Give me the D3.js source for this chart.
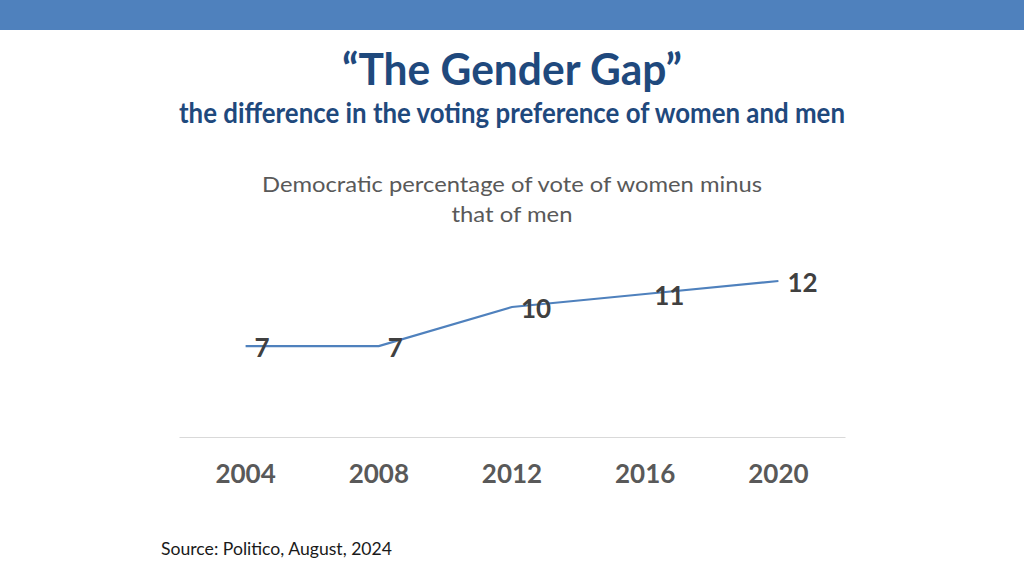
<!DOCTYPE html>
<html>
<head>
<meta charset="utf-8">
<script src="https://cdn.jsdelivr.net/npm/d3@7"></script>
<style>
  body { margin: 0; background: #ffffff; }
  svg { display: block; font-family: Lato, "Open Sans", sans-serif; }
</style>
</head>
<body>
<svg id="chart"></svg>
<script>
// Chart data
var years = ["2004", "2008", "2012", "2016", "2020"];
var gapValues = [7, 7, 10, 11, 12];

var titleText = "\u201CThe Gender Gap\u201D";
var subtitleText = "the difference in the voting preference of women and men";
var chartTitleLines = ["Democratic percentage of vote of women minus", "that of men"];
var sourceText = "Source: Politico, August, 2024";

// Draw the whole slide
var drawSlide = function(target) {
    var screen = {width: 1024, height: 576};
    var plot = {left: 179, right: 845, top: 255, bottom: 437};

    var svg = d3.select(target)
        .attr("width", screen.width)
        .attr("height", screen.height);

    // blue band across the top
    svg.append("rect")
        .attr("x", 0).attr("y", 0)
        .attr("width", screen.width).attr("height", 30)
        .attr("fill", "#4f81bd");

    // slide title and subtitle
    svg.append("text")
        .text(titleText)
        .attr("x", 512).attr("y", 85)
        .attr("text-anchor", "middle")
        .attr("font-size", 43)
        .attr("font-weight", "bold")
        .attr("textLength", 340)
        .attr("lengthAdjust", "spacingAndGlyphs")
        .attr("fill", "#1f497d");

    svg.append("text")
        .text(subtitleText)
        .attr("x", 512).attr("y", 123)
        .attr("text-anchor", "middle")
        .attr("font-size", 28)
        .attr("font-weight", "bold")
        .attr("textLength", 666)
        .attr("lengthAdjust", "spacingAndGlyphs")
        .attr("fill", "#1f497d");

    // chart title
    svg.append("g")
        .selectAll("text")
        .data(chartTitleLines)
        .enter()
        .append("text")
        .text(function(d) { return d; })
        .attr("x", 512)
        .attr("y", function(d, i) { return 192 + i * 30; })
        .attr("text-anchor", "middle")
        .attr("font-size", 22)
        .attr("textLength", function(d, i) { return i === 0 ? 500 : 121; })
        .attr("lengthAdjust", "spacingAndGlyphs")
        .attr("fill", "#595959");

    // scales
    var xScale = d3.scaleBand()
        .domain(years)
        .range([plot.left, plot.right]);

    var yScale = d3.scaleLinear()
        .domain([0, 14])
        .range([plot.bottom, plot.top]);

    // category axis
    var xAxis = d3.axisBottom(xScale).tickSize(0).tickPadding(28);
    var axis = svg.append("g")
        .attr("transform", "translate(0," + plot.bottom + ")")
        .call(xAxis);
    axis.select(".domain")
        .attr("stroke", "#d9d9d9")
        .attr("stroke-width", 1.2);
    axis.selectAll("text")
        .attr("font-family", "Lato, sans-serif")
        .attr("font-size", 26)
        .attr("font-weight", "bold")
        .attr("fill", "#595959");

    // the line
    var line = d3.line()
        .x(function(d, i) { return xScale(years[i]) + xScale.bandwidth() / 2; })
        .y(function(d) { return yScale(d); });

    svg.append("path")
        .datum(gapValues)
        .attr("d", line)
        .attr("fill", "none")
        .attr("stroke", "#4f81bd")
        .attr("stroke-width", 2.25);

    // data labels to the right of each point
    svg.append("g")
        .selectAll("text")
        .data(gapValues)
        .enter()
        .append("text")
        .text(function(d) { return d; })
        .attr("x", function(d, i) { return xScale(years[i]) + xScale.bandwidth() / 2 + 9; })
        .attr("y", function(d) { return yScale(d) + 11; })
        .attr("font-size", 26)
        .attr("font-weight", "bold")
        .attr("fill", "#404040");

    // source note
    svg.append("text")
        .text(sourceText)
        .attr("x", 161).attr("y", 555)
        .attr("font-size", 17)
        .attr("textLength", 231)
        .attr("lengthAdjust", "spacingAndGlyphs")
        .attr("fill", "#1a1a1a");
}

drawSlide("#chart");
</script>
</body>
</html>
